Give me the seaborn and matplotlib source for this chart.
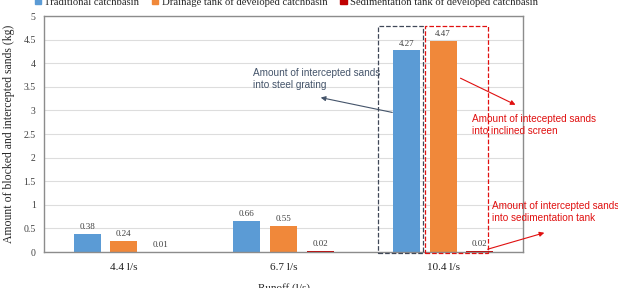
import pandas as pd
import seaborn as sns
import numpy as np
import matplotlib.pyplot as plt
from matplotlib.patches import Rectangle

# data
runoff = ['4.4 l/s', '6.7 l/s', '10.4 l/s']
series_names = ['Traditional catchbasin', 'Drainage tank of developed catchbasin',
                'Sedimentation tank of developed catchbasin']
traditional = [0.38, 0.66, 4.27]
drainage = [0.24, 0.55, 4.47]
sedimentation = [0.01, 0.02, 0.02]
colors = ['#5B9BD5', '#F0883A', '#C00000']


def build_frame():
    rows = []
    for name, vals in zip(series_names, [traditional, drainage, sedimentation]):
        for r, v in zip(runoff, vals):
            rows.append({'Runoff': r, 'Catchbasin': name, 'Sand': v})
    return pd.DataFrame(rows)


def draw(df):
    sns.set_style('white')
    plt.rcParams['font.family'] = ['Liberation Serif', 'DejaVu Serif']
    fig = plt.figure(figsize=(6.18, 2.88), dpi=100)
    ax = fig.add_axes([44 / 618, 36 / 288, 479 / 618, 236 / 288])

    sns.barplot(data=df, x='Runoff', y='Sand', hue='Catchbasin', order=runoff,
                hue_order=series_names, palette=colors, saturation=1, width=0.69, gap=0.26,
                edgecolor='none', ax=ax, legend=False)

    ax.set_ylim(0, 5)
    ax.set_yticks(np.arange(0, 5.01, 0.5))
    ax.set_yticklabels(['0', '0.5', '1', '1.5', '2', '2.5', '3', '3.5', '4', '4.5', '5'],
                       fontsize=7, color='#404040')
    ax.tick_params(axis='x', labelsize=8, colors='#202020', length=0, pad=8)
    ax.tick_params(axis='y', length=0, pad=6)
    ax.yaxis.grid(True, color='#DDDDDD', linewidth=0.8)
    ax.set_axisbelow(True)
    for s in ax.spines.values():
        s.set_color('#8C8C8C')
        s.set_linewidth(1.0)
    ax.set_ylabel('Amount of blocked and intercepted sands (kg)', fontsize=8.5, labelpad=6)
    ax.set_xlabel('Runoff (l/s)', fontsize=8, labelpad=8)

    for cont in ax.containers:
        ax.bar_label(cont, fmt='%.2f', fontsize=6.5, padding=2, color='#404040')

    # legend at the top (partly outside the figure)
    handles = [Rectangle((0, 0), 1, 1, color=c) for c in colors]
    fig.legend(handles, series_names, loc='center', bbox_to_anchor=(0.463, 1 - 2 / 288),
               ncol=3, frameon=False, fontsize=7.7, handlelength=0.6, handleheight=0.6,
               columnspacing=1.2, handletextpad=0.3)

    # dashed boxes around the 10.4 l/s bars
    blue_bar = ax.containers[0][2]
    orange_bar = ax.containers[1][2]
    red_bar = ax.containers[2][2]
    bw = blue_bar.get_width()
    x0 = blue_bar.get_x() - bw * 0.55
    x1 = blue_bar.get_x() + bw * 1.12
    ax.add_patch(Rectangle((x0, -0.02), x1 - x0, 4.8, fill=False, ls='--', lw=0.9,
                           edgecolor='#404858', clip_on=False, zorder=5))
    x2 = orange_bar.get_x() - bw * 0.18
    x3 = red_bar.get_x() + bw * 0.8
    ax.add_patch(Rectangle((x2, -0.02), x3 - x2, 4.8, fill=False, ls='--', lw=0.9,
                           edgecolor='#E01010', clip_on=False, zorder=5))

    sans = ['Liberation Sans', 'DejaVu Sans']
    ax.annotate('Amount of intercepted sands\ninto steel grating',
                xy=(253 / 618, 1 - 79 / 288), xycoords='figure fraction',
                fontsize=7.2, color='#44546A', family=sans, va='center', ha='left',
                linespacing=1.3, annotation_clip=False)
    ax.annotate('', xy=(318 / 618, 1 - 97 / 288), xycoords='figure fraction',
                xytext=(395 / 618, 1 - 113 / 288), textcoords='figure fraction',
                arrowprops=dict(arrowstyle='-|>', color='#44546A', lw=0.8, mutation_scale=7))

    ax.annotate('Amount of intecepted sands\ninto inclined screen',
                xy=(472 / 618, 1 - 125 / 288), xycoords='figure fraction',
                fontsize=7.2, color='#E01010', family=sans, va='center', ha='left',
                linespacing=1.3, annotation_clip=False)
    ax.annotate('', xy=(518 / 618, 1 - 106 / 288), xycoords='figure fraction',
                xytext=(458 / 618, 1 - 77 / 288), textcoords='figure fraction',
                arrowprops=dict(arrowstyle='-|>', color='#E01010', lw=0.8, mutation_scale=7))

    ax.annotate('Amount of intercepted sands\ninto sedimentation tank',
                xy=(492 / 618, 1 - 212 / 288), xycoords='figure fraction',
                fontsize=7.2, color='#E01010', family=sans, va='center', ha='left',
                linespacing=1.3, annotation_clip=False)
    ax.annotate('', xy=(547 / 618, 1 - 232 / 288), xycoords='figure fraction',
                xytext=(485 / 618, 1 - 250 / 288), textcoords='figure fraction',
                arrowprops=dict(arrowstyle='-|>', color='#E01010', lw=0.8, mutation_scale=7))

    fig.savefig('out.png', dpi=100)


if __name__ == '__main__':
    draw(build_frame())
